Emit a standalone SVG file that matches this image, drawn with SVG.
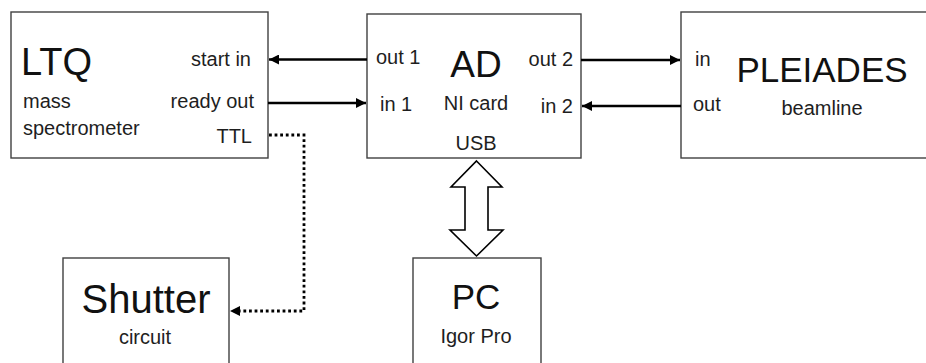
<svg xmlns="http://www.w3.org/2000/svg" width="926" height="363" viewBox="0 0 926 363">
<defs>
<style>
.box{fill:#fff;stroke:#404040;stroke-width:1.4}
text{font-family:"Liberation Sans",Arial,sans-serif;fill:#1e1e1e}
.s{font-size:20px}
.b{fill:#111}
.m{text-anchor:middle}
.e{text-anchor:end}
.w{fill:none;stroke:#000;stroke-width:2.4}
.d{fill:none;stroke:#000;stroke-width:2.8;stroke-dasharray:2.8 2.8}
</style>
<marker id="ah" viewBox="0 0 10 10" refX="10" refY="5" markerWidth="10" markerHeight="10" markerUnits="userSpaceOnUse" orient="auto">
<path d="M0,0 L10,5 L0,10 Z" fill="#000"/>
</marker>
</defs>
<rect width="926" height="363" fill="#fff"/>
<g id="LTQ">
<rect class="box" x="11" y="12" width="257" height="146"/>
<text class="b" x="21" y="75" font-size="38">LTQ</text>
<text class="s" x="23" y="108">mass</text>
<text class="s" x="23" y="135">spectrometer</text>
<text class="s e" x="251" y="66">start in</text>
<text class="s e" x="254" y="108">ready out</text>
<text class="s e" x="252" y="143">TTL</text>
</g>
<g id="AD">
<rect class="box" x="367" y="14" width="214" height="144"/>
<text class="b m" x="476" y="77" font-size="37">AD</text>
<text class="s" x="376" y="64">out 1</text>
<text class="s" x="380" y="111">in 1</text>
<text class="s m" x="476" y="110">NI card</text>
<text class="s e" x="573" y="66">out 2</text>
<text class="s e" x="573" y="113">in 2</text>
<text class="s m" x="476" y="150">USB</text>
</g>
<g id="PLEIADES">
<rect class="box" x="681" y="12" width="260" height="146"/>
<text class="s" x="695" y="66" font-size="17">in</text>
<text class="b m" x="822" y="82" font-size="35">PLEIADES</text>
<text class="s" x="693" y="111">out</text>
<text class="s m" x="822" y="115">beamline</text>
</g>
<g id="Shutter">
<rect class="box" x="63" y="258" width="166" height="120"/>
<text class="b m" x="146" y="313" font-size="40">Shutter</text>
<text class="s m" x="145" y="344">circuit</text>
</g>
<g id="PC">
<rect class="box" x="413" y="258" width="128" height="120"/>
<text class="b m" x="476" y="309" font-size="35">PC</text>
<text class="s m" x="476" y="343">Igor Pro</text>
</g>
<g id="connectors">
<path class="w" d="M367,59.5 H269" marker-end="url(#ah)"/>
<path class="w" d="M268,103 H366" marker-end="url(#ah)"/>
<path class="w" d="M581,60 H680" marker-end="url(#ah)"/>
<path class="w" d="M681,106 H582" marker-end="url(#ah)"/>
<path class="d" d="M269,135 H304 V311 H239"/>
<path d="M240,306 L230,311 L240,316 Z" fill="#000"/>
<path d="M476.5,161 L502,187 L488,187 L488,230 L503,230 L476.5,256 L450,230 L465,230 L465,187 L451,187 Z" fill="#fff" stroke="#000" stroke-width="1.6" stroke-linejoin="miter"/>
</g>
</svg>
